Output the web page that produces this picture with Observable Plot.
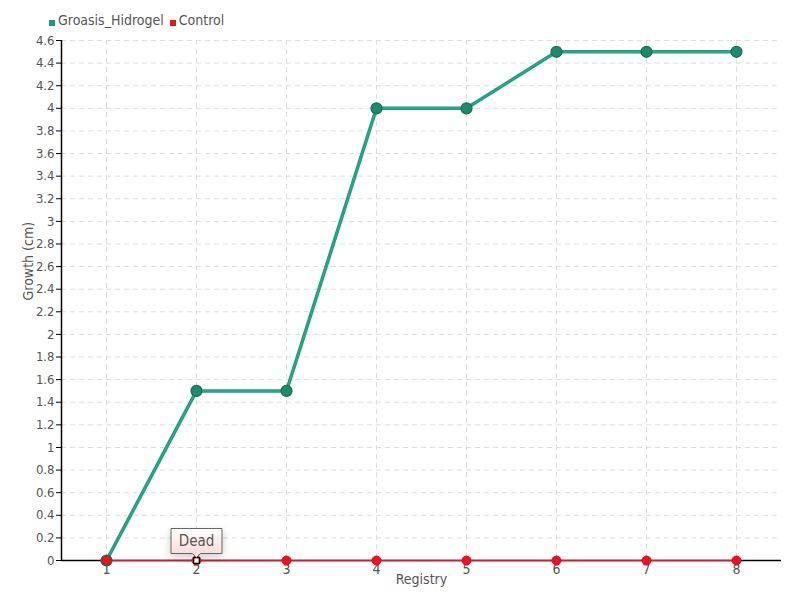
<!DOCTYPE html>
<html><head><meta charset="utf-8">
<script src="https://cdn.jsdelivr.net/npm/d3@7"></script>
<script src="https://cdn.jsdelivr.net/npm/@observablehq/plot@0.6"></script>
<style>
body{margin:0;background:#fff;}
#wrap{width:800px;height:600px;position:relative;font-family:"DejaVu Sans Condensed","DejaVu Sans",sans-serif;font-stretch:condensed;color:#555;}
#legend{height:30px;display:flex;align-items:flex-end;padding-left:49px;font-size:14px;line-height:15px;box-sizing:border-box;padding-bottom:2px;}
#legend span.sw{display:inline-block;width:6px;height:6px;margin-right:3px;margin-top:4px;}
#legend .item{margin-right:6px;display:flex;align-items:center;}
svg{display:block;}
</style>
</head><body>
<div id="wrap">
<div id="legend"></div>
<div id="chart"></div>
</div>
<script>
const registry = [1, 2, 3, 4, 5, 6, 7, 8];
const groasis = [0, 1.5, 1.5, 4, 4, 4.5, 4.5, 4.5];
const control = [0, 0, 0, 0, 0, 0, 0, 0];
const yTicks = [0, 0.2, 0.4, 0.6, 0.8, 1, 1.2, 1.4, 1.6, 1.8, 2, 2.2, 2.4, 2.6, 2.8, 3, 3.2, 3.4, 3.6, 3.8, 4, 4.2, 4.4, 4.6];
const seriesNames = ["Groasis_Hidrogel", "Control"];
const seriesColors = ["#1f9a7b", "#ee1122"];
const annotations = [{x: 2, y: 0, text: "\u00a0Dead\u00a0"}];

const gData = registry.map((r, i) => ({x: r, y: groasis[i]}));
const cData = registry.map((r, i) => ({x: r, y: control[i]}));

const legend = document.getElementById("legend");
seriesNames.forEach((n, i) => {
  const it = document.createElement("div");
  it.className = "item";
  it.innerHTML = `<span class="sw" style="background:${seriesColors[i]}"></span>${n}`;
  legend.appendChild(it);
});

const font = '"DejaVu Sans Condensed","DejaVu Sans",sans-serif';
const chart = Plot.plot({
  width: 800,
  height: 570,
  marginLeft: 61,
  marginRight: 19,
  marginTop: 10,
  marginBottom: 40,
  style: {fontFamily: font, fontSize: "14px", color: "#555", fontStretch: "condensed", overflow: "visible"},
  x: {domain: [0.5, 8.5], axis: null},
  y: {domain: [0, 4.6], axis: null},
  marks: [
    Plot.ruleY(yTicks, {stroke: "#ddd", strokeDasharray: "5,4", strokeWidth: 1}),
    Plot.ruleX(registry, {stroke: "#ddd", strokeDasharray: "5,4", strokeWidth: 1}),
    Plot.axisY({ticks: yTicks, tickSize: 5, tickPadding: 2, tickFormat: d => String(+d.toFixed(1)), stroke: "#000", fill: "#555", label: null, fontSize: 13}),
    Plot.axisX({ticks: registry, tickSize: 4, tickPadding: 0, tickFormat: d => String(d), stroke: "#000", fill: "#555", label: null, fontSize: 14}),
    Plot.ruleX([0.5], {stroke: "#000", strokeWidth: 1.5}),
    Plot.ruleY([0], {stroke: "#000", strokeWidth: 1.5}),
    Plot.line(gData, {x: "x", y: "y", stroke: "#1f9a7b", strokeWidth: 3.5}),
    Plot.line(gData, {x: "x", y: "y", stroke: "#2aa887", strokeWidth: 1.5}),
    Plot.dot(gData, {x: "x", y: "y", r: 5.5, fill: "#1e8a6b", stroke: "#176e56", strokeWidth: 1.2}),
    Plot.line(cData, {x: "x", y: "y", stroke: "#ee1122", strokeWidth: 1.3}),
    Plot.dot(cData, {x: "x", y: "y", r: 4.5, fill: "#ee1122", stroke: "#d40f1e", strokeWidth: 1}),
    Plot.dot(annotations, {x: "x", y: "y", symbol: "square", r: 3.2, fill: "#fff", stroke: "#000", strokeWidth: 1.3}),
    Plot.tip(annotations, {x: "x", y: "y", title: "text", anchor: "bottom", r: 0, pointerSize: 8, textPadding: 3.5, dy: -3,
      fill: "url(#deadGrad)", stroke: "#666", fontSize: 15, fontFamily: font}),
    Plot.text(["Registry"], {frameAnchor: "bottom", dy: 23, fill: "#555", fontSize: 14}),
    Plot.text(["Growth (cm)"], {frameAnchor: "left", dx: -33, dy: 0, rotate: -90, fill: "#555", fontSize: 14})
  ]
});
const defs = d3.select(chart).insert("defs", ":first-child");
const grad = defs.append("linearGradient").attr("id", "deadGrad").attr("x1", 0).attr("y1", 0).attr("x2", 0).attr("y2", 1);
grad.append("stop").attr("offset", "0%").attr("stop-color", "#ffffff");
grad.append("stop").attr("offset", "100%").attr("stop-color", "#fdd6d6");
document.getElementById("chart").appendChild(chart);
</script>
</body></html>
